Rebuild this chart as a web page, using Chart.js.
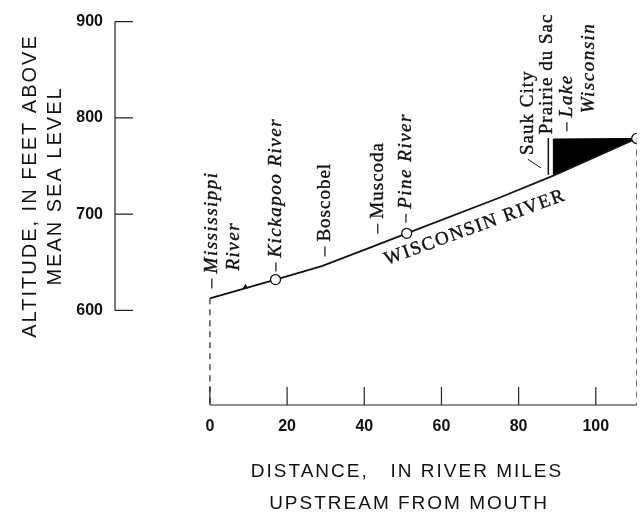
<!DOCTYPE html>
<html>
<head>
<meta charset="utf-8">
<script src="https://cdn.jsdelivr.net/npm/chart.js@4.4.1/dist/chart.umd.min.js"></script>
<style>
  html, body { margin: 0; padding: 0; background: #fff; }
  #wrap { width: 643px; height: 513px; position: relative; }
</style>
</head>
<body>
<div id="wrap"><canvas id="profile-chart"></canvas></div>
<script>
// Wisconsin River profile: river miles upstream from mouth vs altitude (ft)
const riverMiles = [0, 17, 29, 42, 51, 75, 89, 110.6];
const riverAlt = [612.5, 632, 646, 666, 680, 717, 740, 778.6];

// open circles
const gaugeMiles = [17, 51, 110.6];
const gaugeAlt = [632, 680, 778.6];

// Lake Wisconsin (black wedge)
const lakeMiles = [89, 89, 110.6];
const lakeAlt = [740, 778, 778.6];

// Prairie du Sac dam mark and Sauk City leader
const damMiles = [87.7, 87.7];
const damAlt = [741, 779];
const saukMiles = [82.4, 85.8];
const saukAlt = [757, 748];

// small flow mark near the mouth
const flowMiles = [9.2];
const flowAlt = [624.5];

const xTicks = [0, 20, 40, 60, 80, 100];
const yTicks = [600, 700, 800, 900];
const xMin = -24.6, xMax = 110.6;
const yMin = 501.7, yMax = 900;

// place names along the river
const placeNames = ['Mississippi', 'River', 'Kickapoo River', 'Boscobel', 'Muscoda',
                    'Pine River', 'Sauk City', 'Prairie du Sac', 'Lake', 'Wisconsin'];
const placeMiles = [0.5, 6.2, 17.1, 29.8, 43.5, 50.8, 82.4, 87.3, 92.5, 98.2];
const placeAlt = [622.8, 641.4, 640.3, 655.9, 679.7, 691, 761.4, 783, 786.2, 804.8];
const placeItalic = [true, true, true, false, false, true, false, false, true, true];
const placeDash = [10, 0, 9, 10, 10, 9, 0, 0, 9, 0];

const pts = (xs, ys) => xs.map((x, i) => ({x: x, y: ys[i]}));

const ink = '#111';

const profileDecor = {
    id: 'profileDecor',
    beforeDatasetsDraw(chart) {
        const {ctx, chartArea, scales: {x, y}} = chart;
        ctx.save();
        ctx.strokeStyle = '#222';
        ctx.lineWidth = 1.2;
        ctx.beginPath();
        // y axis (600-900 only)
        const ax = chartArea.left;
        ctx.moveTo(ax, y.getPixelForValue(yTicks[yTicks.length - 1]));
        ctx.lineTo(ax, y.getPixelForValue(yTicks[0]));
        yTicks.forEach(v => {
            const py = y.getPixelForValue(v);
            ctx.moveTo(ax, py);
            ctx.lineTo(ax + 18, py);
        });
        // x axis from mile 0
        const by = chartArea.bottom;
        ctx.moveTo(x.getPixelForValue(0), by);
        ctx.lineTo(x.getPixelForValue(xMax), by);
        xTicks.forEach(v => {
            const px = x.getPixelForValue(v);
            ctx.moveTo(px, by);
            ctx.lineTo(px, by - 18);
        });
        ctx.stroke();

        // axis titles
        ctx.fillStyle = ink;
        ctx.font = '19px "Liberation Sans", Arial, sans-serif';
        ctx.letterSpacing = '2px';
        ctx.textAlign = 'center';
        ctx.textBaseline = 'alphabetic';
        ctx.fillText('DISTANCE,   IN RIVER MILES', 407, 477);
        ctx.fillText('UPSTREAM FROM MOUTH', 409, 509);

        ctx.translate(36, 186);
        ctx.rotate(-Math.PI / 2);
        ctx.font = '20px "Liberation Sans", Arial, sans-serif';
        ctx.fillText('ALTITUDE, IN FEET ABOVE', 0, 0);
        ctx.fillText('MEAN SEA LEVEL', 0, 25);
        ctx.restore();
    },
    afterDatasetsDraw(chart) {
        const {ctx, scales: {x, y}} = chart;
        ctx.save();
        ctx.strokeStyle = ink;
        ctx.fillStyle = ink;
        ctx.lineWidth = 1.2;
        placeNames.forEach((name, i) => {
            const px = x.getPixelForValue(placeMiles[i]);
            const py = y.getPixelForValue(placeAlt[i]);
            const dash = placeDash[i];
            let start = py;
            if (dash > 0) {
                ctx.beginPath();
                ctx.moveTo(px, py);
                ctx.lineTo(px, py - dash);
                ctx.stroke();
                start = py - dash - 5;
            }
            ctx.save();
            ctx.translate(px, start);
            ctx.rotate(-Math.PI / 2);
            ctx.font = (placeItalic[i] ? 'italic ' : '') + '19px "Liberation Serif", "Times New Roman", serif';
            ctx.letterSpacing = placeItalic[i] ? '1.5px' : '1px';
            ctx.textAlign = 'left';
            ctx.textBaseline = 'alphabetic';
            ctx.lineWidth = 0.4;
            ctx.fillText(name, 0, 19 * 0.25);
            ctx.strokeText(name, 0, 19 * 0.25);
            ctx.restore();
        });

        // river name along the profile
        const cx = x.getPixelForValue(68.7);
        const cy = y.getPixelForValue(686);
        ctx.translate(cx, cy);
        ctx.rotate(-20 * Math.PI / 180);
        ctx.font = '19px "Liberation Serif", "Times New Roman", serif';
        ctx.letterSpacing = '1.6px';
        ctx.textAlign = 'center';
        ctx.textBaseline = 'middle';
        ctx.lineWidth = 0.4;
        ctx.fillText('WISCONSIN RIVER', 0, 0);
        ctx.strokeText('WISCONSIN RIVER', 0, 0);
        ctx.restore();
    }
};

const ctx = document.getElementById('profile-chart').getContext('2d');
new Chart(ctx, {
    type: 'scatter',
    data: {
        datasets: [
            {
                label: 'gauges',
                data: pts(gaugeMiles, gaugeAlt),
                showLine: false,
                pointRadius: 5,
                pointBackgroundColor: '#fff',
                pointBorderColor: ink,
                pointBorderWidth: 1.3
            },
            {
                label: 'flow',
                data: pts(flowMiles, flowAlt),
                showLine: false,
                pointStyle: 'triangle',
                pointRadius: 3,
                pointBackgroundColor: ink,
                pointBorderColor: ink,
                pointBorderWidth: 0
            },
            {
                label: 'river',
                data: pts(riverMiles, riverAlt),
                showLine: true,
                borderColor: ink,
                borderWidth: 1.7,
                pointRadius: 0
            },
            {
                label: 'lake',
                data: pts(lakeMiles, lakeAlt),
                showLine: true,
                fill: 'shape',
                backgroundColor: '#000',
                borderColor: '#000',
                borderWidth: 1,
                pointRadius: 0
            },
            {
                label: 'dam',
                data: pts(damMiles, damAlt),
                showLine: true,
                borderColor: ink,
                borderWidth: 1.5,
                pointRadius: 0
            },
            {
                label: 'sauk',
                data: pts(saukMiles, saukAlt),
                showLine: true,
                borderColor: ink,
                borderWidth: 1,
                pointRadius: 0
            },
            {
                label: 'mouth',
                data: pts([0, 0], [riverAlt[0], yMin]),
                showLine: true,
                borderColor: '#222',
                borderWidth: 1.2,
                borderDash: [6, 5],
                pointRadius: 0
            },
            {
                label: 'end',
                data: pts([xMax, xMax], [riverAlt[riverAlt.length - 1], yMin]),
                showLine: true,
                borderColor: '#222',
                borderWidth: 1.2,
                borderDash: [6, 5],
                pointRadius: 0
            }
        ]
    },
    options: {
        responsive: true,
        maintainAspectRatio: false,
        animation: false,
        layout: { padding: { top: 20, right: 6, bottom: 0, left: 0 } },
        plugins: {
            legend: { display: false },
            tooltip: { enabled: false }
        },
        elements: { line: { tension: 0 } },
        scales: {
            x: {
                type: 'linear',
                min: xMin,
                max: xMax,
                grid: { display: false, drawTicks: false },
                border: { display: false },
                afterBuildTicks: s => { s.ticks = xTicks.map(v => ({value: v})); },
                afterFit: s => { s.height = 108; },
                ticks: {
                    padding: 12,
                    color: ink,
                    autoSkip: false,
                    maxRotation: 0,
                    font: { family: '"Liberation Sans", Arial, sans-serif', size: 16, weight: 'bold' }
                }
            },
            y: {
                type: 'linear',
                min: yMin,
                max: yMax,
                grid: { display: false, drawTicks: false },
                border: { display: false },
                afterBuildTicks: s => { s.ticks = yTicks.map(v => ({value: v})); },
                afterFit: s => { s.width = 115; },
                ticks: {
                    padding: 12,
                    color: ink,
                    font: { family: '"Liberation Sans", Arial, sans-serif', size: 16, weight: 'bold' }
                }
            }
        }
    },
    plugins: [profileDecor]
});
</script>
</body>
</html>
